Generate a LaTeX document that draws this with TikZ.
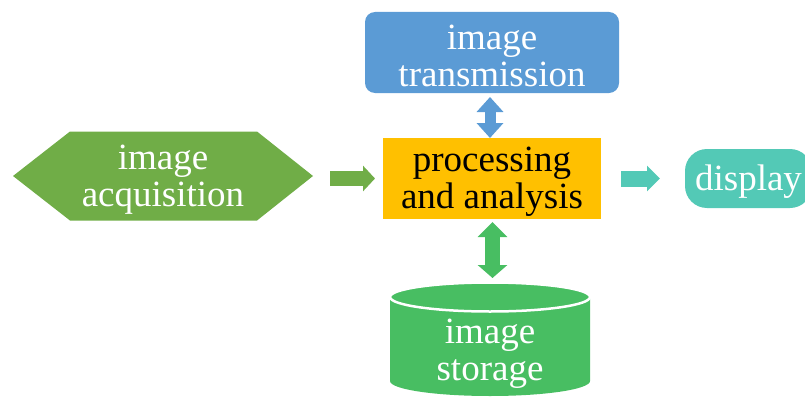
\documentclass[tikz,border=0pt]{standalone}
\usepackage{fontspec}
\setmainfont{Liberation Serif}
\usetikzlibrary{arrows.meta}

\definecolor{acqgreen}{HTML}{70AD47}
\definecolor{procyellow}{HTML}{FFC000}
\definecolor{transblue}{HTML}{5B9BD5}
\definecolor{storegreen}{HTML}{48BE62}
\definecolor{dispteal}{HTML}{53C9B6}

\tikzset{
  shapebox/.style={inner sep=0pt, outer sep=0pt},
  label text/.style={font=\fontsize{37}{37}\selectfont, align=center, inner sep=0pt, yshift=-3.5pt},
  blockarrow/.style={line width=#1, line cap=butt},
}

\begin{document}
\begin{tikzpicture}[x=1pt, y=1pt]
\useasboundingbox (0,0) rectangle (805,-396);
\clip (0,0) rectangle (805,-396);

% central processing block
\node[shapebox, fill=procyellow, minimum width=218pt, minimum height=81pt] (proc) at (492,-178.5) {};
\node[label text, text=black] (proctext) at (proc.center) {processing\\and analysis};

% transmission block on top
\node[shapebox, fill=transblue, rounded corners=10pt, minimum width=254pt,
      minimum height=81pt] (trans) at (492,-52.5) {};
\node[label text, text=white] (transtext) at (trans.center) {image\\transmission};

% acquisition hexagon on the left
\node[shapebox, minimum width=300pt, minimum height=89pt] (acq) at (163,-176) {};
\fill[acqgreen] (acq.west) -- ([xshift=57pt]acq.north west) -- ([xshift=-56pt]acq.north east)
  -- (acq.east) -- ([xshift=-56pt]acq.south east) -- ([xshift=57pt]acq.south west) -- cycle;
\node[label text, text=white] (acqtext) at (acq.center) {image\\acquisition};

% display pill on the right
\node[shapebox, fill=dispteal, rounded corners=22pt, minimum width=127pt,
      minimum height=59pt] (disp) at (748.5,-178.5) {};
\node[label text, text=white] (disptext) at (disp.center) {display};

% storage cylinder at the bottom
\coordinate (storetop) at (490,-283);
\fill[storegreen] (390,-297) -- (390,-381)
  arc[start angle=180, end angle=360, x radius=100, y radius=15] -- (590,-297) -- cycle;
\filldraw[fill=storegreen, draw=white, line width=2.5pt] (490,-297) ellipse[x radius=100, y radius=14.5];
\node[label text, text=white] (store) at (490,-350) {image\\storage};

% connectors
\draw[blockarrow=15pt, acqgreen, -{Triangle[length=12pt, width=25pt]},
      shorten <=17pt, shorten >=8pt] (acq.east |- proc.west) -- (proc.west);
\draw[blockarrow=16pt, dispteal, -{Triangle[length=13pt, width=25pt]},
      shorten <=20pt, shorten >=25pt] (proc.east) -- (disp.west);
\draw[blockarrow=11pt, transblue,
      {Triangle[length=15pt, width=26pt]}-{Triangle[length=15pt, width=26pt]},
      shorten <=4pt] ([xshift=-2pt]trans.south) -- ([xshift=-2pt]proc.north);
\draw[blockarrow=15pt, storegreen,
      {Triangle[length=15pt, width=29pt]}-{Triangle[length=13pt, width=29pt]},
      shorten <=3pt, shorten >=5pt] ([xshift=0.5pt]proc.south) -- ([xshift=2.5pt]storetop);
\end{tikzpicture}
\end{document}
